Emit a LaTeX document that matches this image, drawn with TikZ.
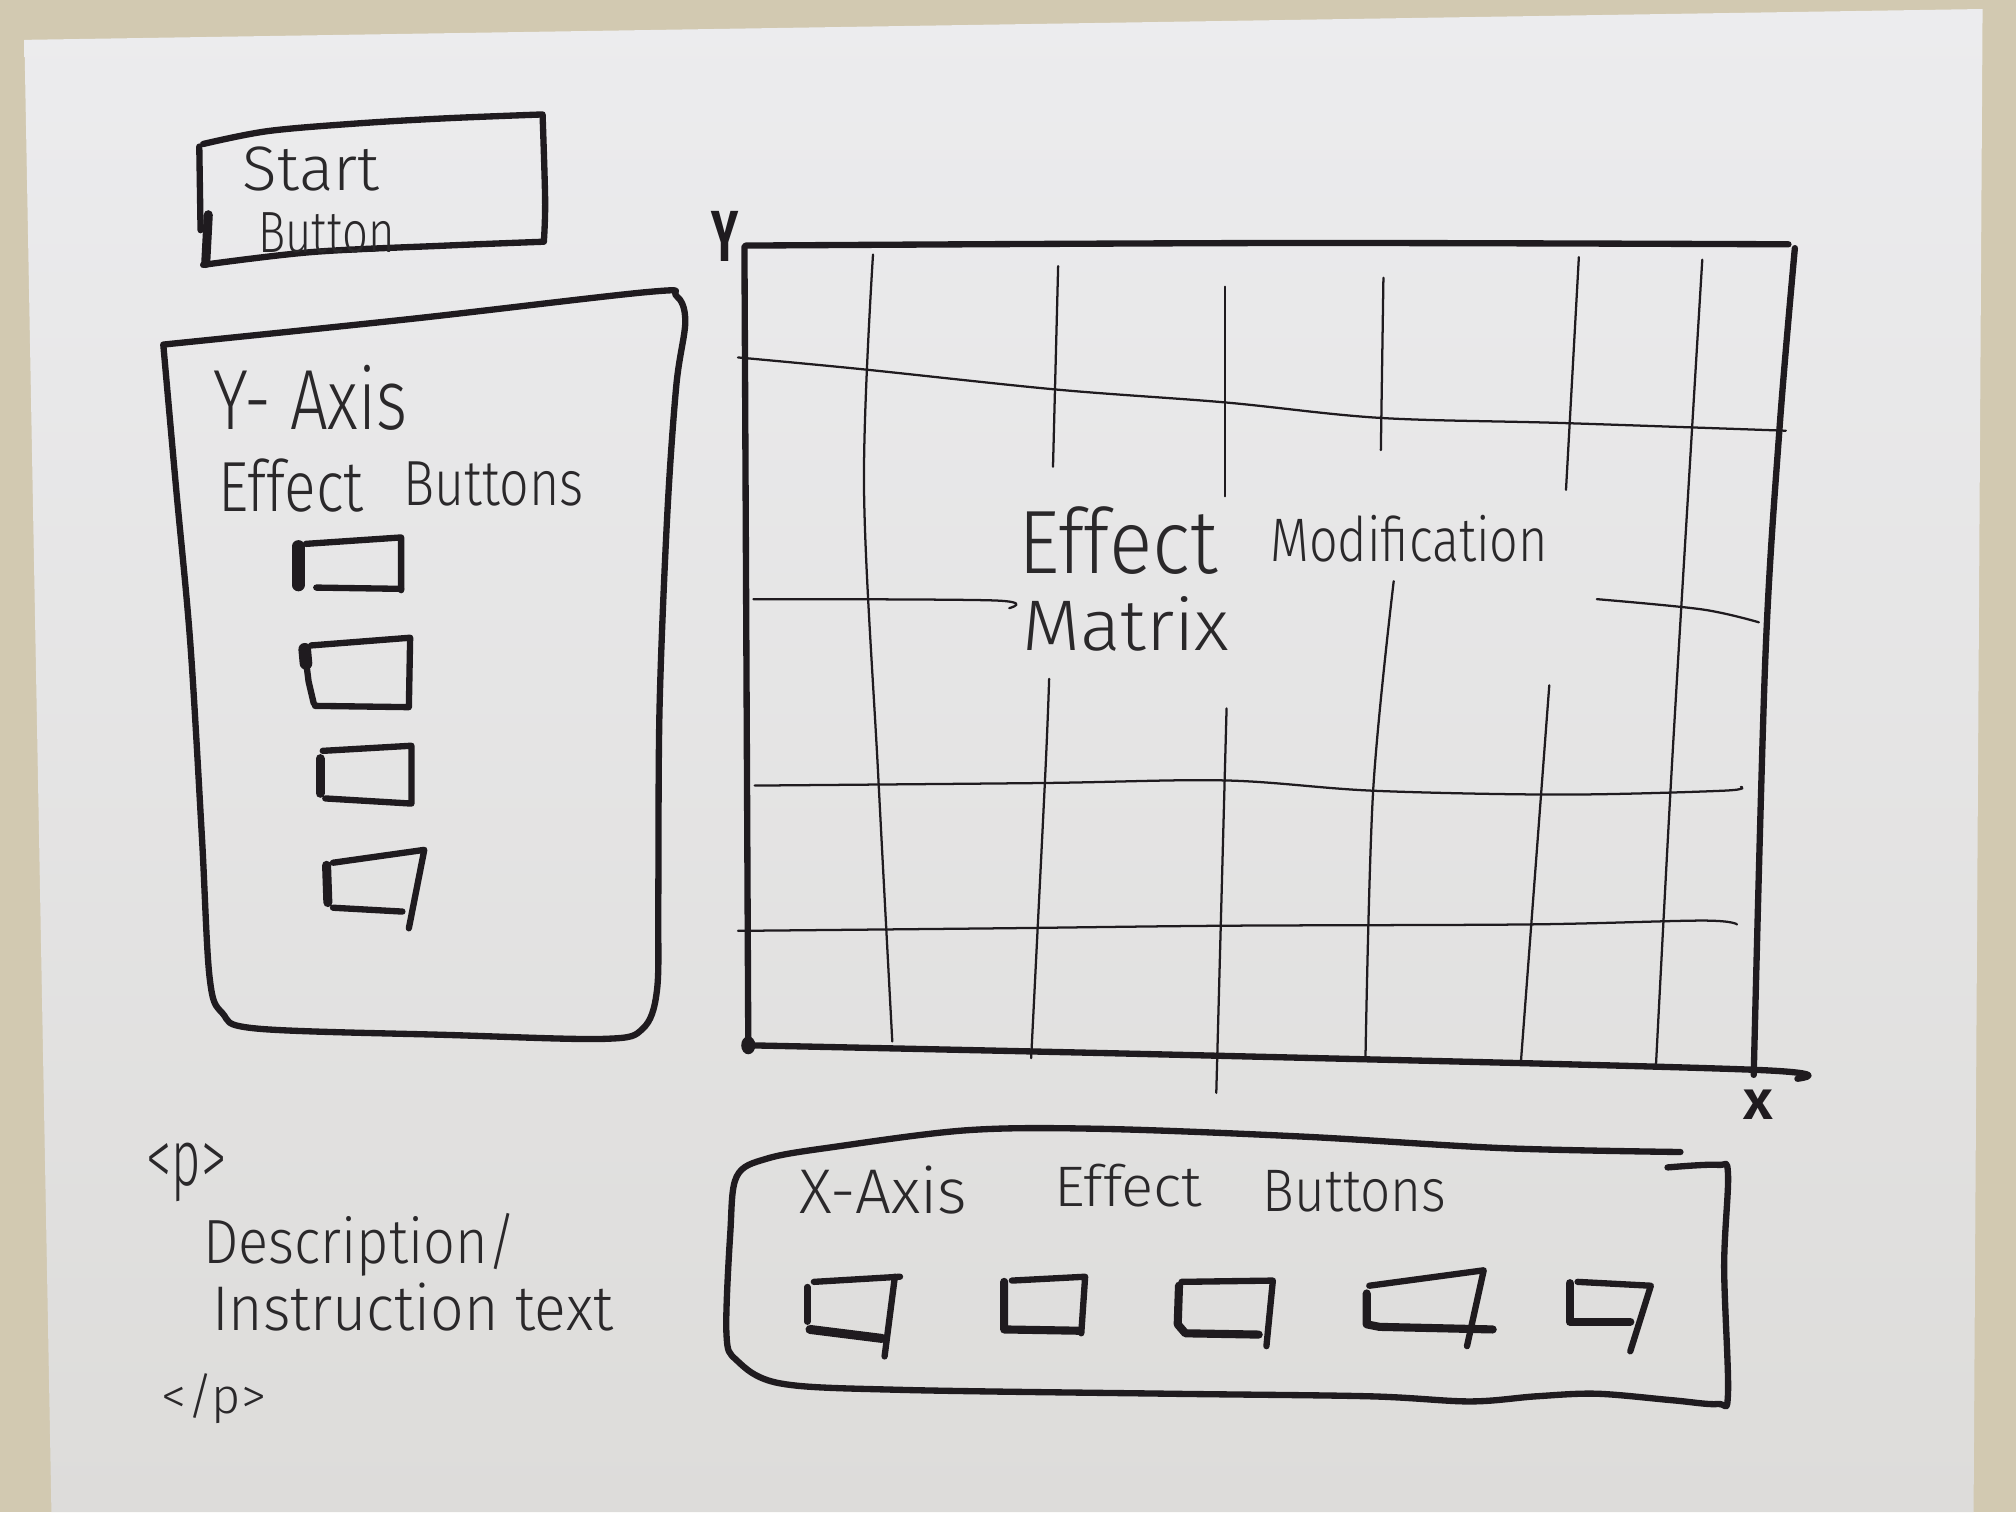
\documentclass[tikz,border=0pt]{standalone}
\usepackage{fontspec}
\usepackage{graphicx}
\newfontfamily\handfont{Fira Sans Light}
\newfontfamily\markfont{Fira Sans}
% width and height of a handwritten word, in mm
\newcommand\hw[3]{\resizebox{#1mm}{#2mm}{#3}}
\definecolor{bgtan}{HTML}{D2C9B1}
\definecolor{paperA}{HTML}{ECECEE}
\definecolor{paperB}{HTML}{DDDCDA}
\definecolor{ink}{HTML}{1F1B1F}
\definecolor{pencil}{HTML}{2A282A}
\begin{document}
\begin{tikzpicture}[x=0.1mm,y=-0.1mm,
  marker/.style={draw=ink,line width=1.4pt,line cap=round,line join=round},
  heavy/.style={marker,line width=2.8pt},
  pen/.style={draw=ink,line width=0.5pt,line cap=round},
  hand/.style={inner sep=0pt,outer sep=0pt,anchor=base west,text=pencil,font=\handfont},
  boldmark/.style={hand,text=ink,font=\markfont\bfseries},
  hs/.style={smooth,tension=0.55}]
% table and sheet of paper
\fill[bgtan] (0,0) rectangle (1568,1176);
\shade[top color=paperA,bottom color=paperB] (19,31) -- (1542,7) -- (1535,1176) -- (40,1176) -- cycle;
\useasboundingbox (0,0) rectangle (1568,1176);

% ---- start button ----
\draw[marker] plot[hs] coordinates {(158,112) (208,102) (278,96) (347,92) (422,89)}
  -- plot[hs] coordinates {(422,89) (424,156) (423,188)}
  -- plot[hs] coordinates {(423,188) (347,191) (243,196) (158,206)};
\draw[marker] (155,114) -- (156,179);
\draw[marker,line width=2pt] (162,167) -- (160,205);
\node[hand] (startA) at (189,148) {\hw{10.6}{3.4}{Start}};
\node[hand] (startB) at (201,196) {\hw{10.6}{3.1}{Button}};

% ---- y-axis effect panel ----
\draw[marker] plot[hs] coordinates {(127,268) (320,248) (505,227) (526,230) (533,250)
  (526,300) (519,400) (513,550) (512,700) (511,770) (500,800) (470,808) (350,805)
  (200,800) (173,788) (163,760) (157,650) (148,500) (137,380) (127,268)};
\node[hand] (yaxis) at (166,334) {\hw{15.1}{5.0}{Y- Axis}};
\node[hand] (yeffA) at (170,398) {\hw{11.3}{4.1}{Effect}};
\node[hand] (yeffB) at (314,393) {\hw{14.0}{3.4}{Buttons}};
% y buttons
\draw[marker] (238,423) -- (312,418) -- (312,459);
\draw[marker] (246,457) -- (312,458);
\draw[heavy] (232,425) -- (232,455);
\draw[marker] (242,502) -- (319,496) -- (318,550) -- (245,549);
\draw[marker] (237,506) -- (240,530) -- (244,547);
\draw[heavy] (237,505) -- (238,516);
\draw[marker] (251,584) -- (320,580) -- (320,625) -- (253,621);
\draw[marker,line width=2pt] (249,590) -- (249,617);
\draw[marker] (259,671) -- (330,661) -- (318,722);
\draw[marker] (259,706) -- (313,709);
\draw[marker,line width=2pt] (254,673) -- (255,702);

% ---- effect modification matrix ----
\node[boldmark] (ylabel) at (553,203) {\hw{2.1}{3.9}{Y}};
\node[boldmark] (xlabel) at (1356,871) {\hw{2.3}{2.3}{X}};
\draw[marker] plot[hs] coordinates {(580,191) (1000,189) (1391,190)};
\draw[marker] (579,192) -- (582,812);
\draw[marker] plot[hs] coordinates {(582,813) (942,821) (1363,832) (1398,839)};
\draw[marker] plot[hs] coordinates {(1396,193) (1384,334) (1373,513) (1364,836)};
\fill[ink] (582,813) ellipse (5.5 and 7);
% grid lines
\draw[pen] plot[hs] coordinates {(679,198) (672,379) (683,602) (694,810)};
\draw[pen] (823,207) -- (819,363);
\draw[pen] plot[hs] coordinates {(816,528) (813,602) (802,823)};
\draw[pen] (953,223) -- (953,386);
\draw[pen] (954,551) -- (946,850);
\draw[pen] (1076,216) -- (1074,350);
\draw[pen] plot[hs] coordinates {(1084,452) (1068,615) (1062,825)};
\draw[pen] (1228,200) -- (1218,381);
\draw[pen] (1205,533) -- (1183,825);
\draw[pen] plot[hs] coordinates {(1324,202) (1316,334) (1300,602) (1288,828)};
\draw[pen] plot[hs] coordinates {(574,278) (669,287) (822,303) (953,313) (1073,325) (1215,329) (1389,335)};
\draw[pen] plot[hs] coordinates {(586,466) (773,467) (785,473)};
\draw[pen] plot[hs] coordinates {(1242,466) (1324,474) (1368,484)};
\draw[pen] plot[hs] coordinates {(587,611) (811,609) (953,607) (1068,615) (1215,618) (1340,615) (1354,612)};
\draw[pen] plot[hs] coordinates {(574,724) (778,722) (953,720) (1188,719) (1324,716) (1351,719)};
\node[hand] (matA) at (792,446) {\hw{15.5}{5.2}{Effect}};
\node[hand] (matB) at (988,437) {\hw{21.6}{3.6}{Modification}};
\node[hand] (matC) at (795,506) {\hw{16.1}{4.2}{Matrix}};

% ---- x-axis effect panel ----
\draw[marker] plot[hs] coordinates {(1307,896) (1169,893) (1013,884) (857,878) (753,879)
  (649,892) (597,901) (573,915) (568,959) (565,1037) (573,1058) (607,1076) (701,1081)
  (909,1084) (1065,1086) (1143,1090) (1195,1086) (1242,1084) (1300,1089) (1336,1092)
  (1344,1084) (1341,985) (1344,913) (1336,906) (1297,908)};
\node[hand] (xaxisA) at (622,944) {\hw{13.0}{3.7}{X-Axis}};
\node[hand] (xaxisB) at (820,938) {\hw{11.5}{3.3}{Effect}};
\node[hand] (xaxisC) at (982,942) {\hw{14.3}{3.2}{Buttons}};
% x buttons
\draw[marker] (633,997) -- (700,993);
\draw[marker] (696,993) -- (688,1055);
\draw[marker,line width=2pt] (630,1034) -- (686,1041);
\draw[marker] (628,1001) -- (628,1028);
\draw[marker] (787,996) -- (844,993) -- (841,1037);
\draw[marker,line width=1.8pt] (781,997) -- (781,1034) -- (839,1035);
\draw[marker] (919,997) -- (990,996) -- (985,1047);
\draw[marker,line width=1.8pt] (917,1000) -- (916,1030) -- (922,1037) -- (979,1038);
\draw[marker] (1065,1000) -- (1154,988) -- (1141,1047);
\draw[marker,line width=1.8pt] (1063,1006) -- (1063,1030) -- (1073,1032) -- (1161,1034);
\draw[marker] (1227,997) -- (1284,1000) -- (1268,1051);
\draw[marker,line width=1.8pt] (1221,998) -- (1221,1028) -- (1268,1028);

% ---- description paragraph ----
\node[hand] (popen) at (114,922) {\hw{6.2}{3.3}{<p>}};
\node[hand] (descA) at (158,983) {\hw{24.4}{3.9}{Description/}};
\node[hand] (descB) at (165,1035) {\hw{31.2}{3.7}{Instruction text}};
\node[hand] (pclose) at (126,1099) {\hw{8.1}{3.1}{</p>}};
\end{tikzpicture}
\end{document}
